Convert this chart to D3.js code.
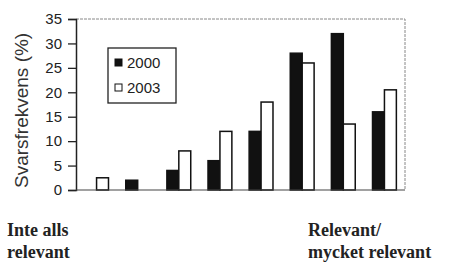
<!DOCTYPE html>
<html>
<head>
<meta charset="utf-8">
<script src="https://cdn.jsdelivr.net/npm/d3@7"></script>
<style>
  body { margin: 0; background: #fff; }
  svg { display: block; }
</style>
</head>
<body>
<script>
// data
const categories = ["1", "2", "3", "4", "5", "6", "7", "8"];
const seriesNames = ["2000", "2003"];
const values2000 = [0, 2, 4, 6, 12, 28, 32, 16];
const values2003 = [2.5, 0, 8, 12, 18, 26, 13.5, 20.5];
const yTicks = [0, 5, 10, 15, 20, 25, 30, 35];

const W = 449, H = 264;
const margin = { top: 19, right: 44, bottom: 74, left: 76 };
const width = W - margin.left - margin.right;
const height = H - margin.top - margin.bottom;

const svg = d3.select("body").append("svg")
    .attr("width", W)
    .attr("height", H);

const g = svg.append("g")
    .attr("transform", "translate(" + margin.left + "," + margin.top + ")");

const x = d3.scaleBand()
    .domain(categories)
    .range([0, width])
    .paddingInner(0.42)
    .paddingOuter(0.21);

const xs = d3.scaleBand()
    .domain(seriesNames)
    .range([0, x.bandwidth()]);

const y = d3.scaleLinear()
    .domain([0, 35])
    .range([height, 0]);

// top + right frame (light, dotted look)
g.append("path")
    .attr("d", "M0,0H" + width + "V" + height)
    .attr("fill", "none")
    .attr("stroke", "#888")
    .attr("stroke-width", 1)
    .attr("stroke-dasharray", "3,1");

const rows = categories.map((c, i) => ({ cat: c, v: [values2000[i], values2003[i]] }));

const grp = g.selectAll(".grp")
    .data(rows)
    .enter().append("g")
    .attr("transform", d => "translate(" + x(d.cat) + ",0)");

grp.selectAll("rect")
    .data(d => d.v.map((v, k) => ({ s: seriesNames[k], v: v })).filter(e => e.v > 0))
    .enter().append("rect")
    .attr("x", d => xs(d.s))
    .attr("y", d => y(d.v))
    .attr("width", xs.bandwidth())
    .attr("height", d => y(0) - y(d.v))
    .attr("fill", d => d.s === "2000" ? "#111" : "#fff")
    .attr("stroke", "#111")
    .attr("stroke-width", 1.5);

// y axis
const yAxis = g.append("g")
    .call(d3.axisLeft(y).tickValues(yTicks).tickSize(8).tickPadding(6));
yAxis.select(".domain").attr("stroke", "#222").attr("stroke-width", 1.5);
yAxis.selectAll(".tick line").attr("stroke", "#222").attr("stroke-width", 1.3);
yAxis.selectAll("text")
    .attr("font-family", "Liberation Sans, Arial, sans-serif")
    .attr("font-size", 15)
    .attr("fill", "#222");

// x baseline
g.append("line")
    .attr("x1", 0).attr("x2", width)
    .attr("y1", height).attr("y2", height)
    .attr("stroke", "#444")
    .attr("stroke-width", 1.2);

// y label
svg.append("text")
    .attr("transform", "translate(28,188) rotate(-90)")
    .attr("font-family", "Liberation Sans, Arial, sans-serif")
    .attr("font-size", 19)
    .attr("fill", "#333")
    .text("Svarsfrekvens (%)");

// legend
const leg = svg.append("g").attr("transform", "translate(108,48)");
leg.append("rect")
    .attr("width", 68).attr("height", 55)
    .attr("fill", "#fff").attr("stroke", "#222").attr("stroke-width", 1.3);
seriesNames.forEach((s, i) => {
    leg.append("rect")
        .attr("x", 7).attr("y", 11 + i * 25)
        .attr("width", 7).attr("height", 7)
        .attr("fill", i === 0 ? "#111" : "#fff")
        .attr("stroke", "#111").attr("stroke-width", 1);
    leg.append("text")
        .attr("x", 19).attr("y", 20 + i * 25)
        .attr("font-family", "Liberation Sans, Arial, sans-serif")
        .attr("font-size", 15)
        .attr("fill", "#222")
        .text(s);
});

// end labels
const endLabels = [
    { x: 7, lines: ["Inte alls", "relevant"] },
    { x: 308, lines: ["Relevant/", "mycket relevant"] }
];
endLabels.forEach(l => {
    l.lines.forEach((t, i) => {
        svg.append("text")
            .attr("x", l.x).attr("y", 236 + i * 22)
            .attr("font-family", "Liberation Serif, Times New Roman, serif")
            .attr("font-weight", "bold")
            .attr("font-size", 18)
            .attr("fill", "#222")
            .text(t);
    });
});
</script>
</body>
</html>
